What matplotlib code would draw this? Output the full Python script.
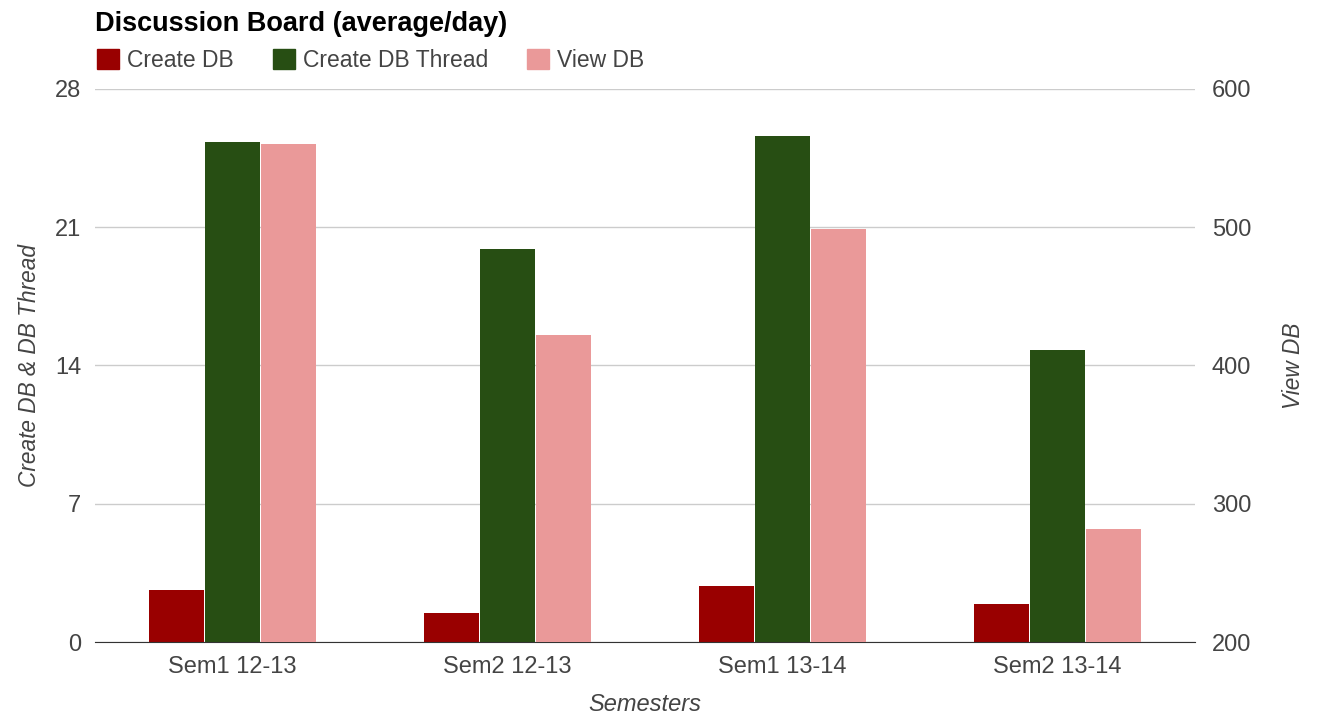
import numpy as np
import matplotlib
matplotlib.use("Agg")
import matplotlib.pyplot as plt
from matplotlib.patches import Patch

plt.rcParams['font.family'] = ['Liberation Sans', 'DejaVu Sans']

# data
semesters = ['Sem1 12-13', 'Sem2 12-13', 'Sem1 13-14', 'Sem2 13-14']
create_db = [2.63, 1.47, 2.84, 1.92]
create_db_thread = [25.3, 19.9, 25.6, 14.8]
view_db = [560, 422, 499, 282]

c_create = '#990000'
c_thread = '#274e13'
c_view = '#ea9999'
grey = '#444444'
fs = 17

fig = plt.figure(figsize=(13.17, 7.17), dpi=100)
ax = fig.add_axes([0.0721, 0.1046, 0.8353, 0.7713])
ax2 = ax.twinx()

x = np.arange(len(semesters))
w = 0.2
off = 0.204

ax.bar(x - off, create_db, w, color=c_create, zorder=3)
ax.bar(x, create_db_thread, w, color=c_thread, zorder=3)
ax2.bar(x + off, view_db, w, color=c_view, zorder=3)

ax.set_xlim(-0.5, 3.5)
ax.set_ylim(0, 28)
ax2.set_ylim(200, 600)
ax.set_yticks([0, 7, 14, 21, 28])
ax2.set_yticks([200, 300, 400, 500, 600])
ax.yaxis.grid(True, color='#cccccc', lw=1, zorder=0)
ax.set_axisbelow(True)

for a in (ax, ax2):
    for s in a.spines.values():
        s.set_visible(False)
    a.tick_params(length=0, labelsize=fs, colors=grey)
ax.spines['bottom'].set_visible(True)
ax.spines['bottom'].set_color('#333333')
ax.spines['bottom'].set_zorder(5)

ax.set_xticks(x)
ax.set_xticklabels(semesters)
ax.tick_params(axis='x', pad=10)
ax.tick_params(axis='y', pad=10)
ax2.tick_params(axis='y', pad=12)

ax.set_xlabel('Semesters', style='italic', fontsize=fs, color=grey, labelpad=11)
ax.set_ylabel('Create DB & DB Thread', style='italic', fontsize=16.3, color=grey, labelpad=10)
ax2.set_ylabel('View DB', style='italic', fontsize=16.3, color=grey, labelpad=22)

fig.text(0.0721, 0.966, 'Discussion Board (average/day)', fontsize=19.5, fontweight='bold',
         color='#000000', va='center', ha='left')

handles = [Patch(color=c_create), Patch(color=c_thread), Patch(color=c_view)]
fig.legend(handles, ['Create DB', 'Create DB Thread', 'View DB'], loc='center left',
           bbox_to_anchor=(0.058, 0.916), ncol=3, frameon=False, fontsize=16.5,
           handlelength=0.96, handleheight=0.96, handletextpad=0.35, columnspacing=1.7,
           labelcolor=grey)

fig.savefig('out.png', dpi=100)
